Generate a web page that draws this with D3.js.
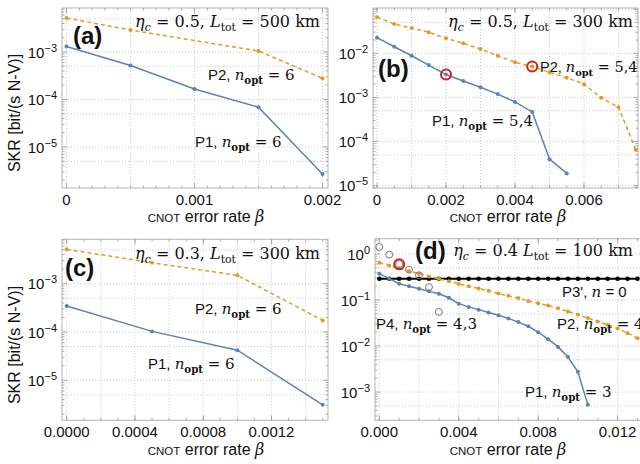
<!DOCTYPE html>
<html><head><meta charset="utf-8">
<script src="https://cdn.jsdelivr.net/npm/d3@7"></script>
<style>body{margin:0;background:#fff}</style>
</head><body>
<svg id="c" width="640" height="464" xmlns="http://www.w3.org/2000/svg"></svg>
<script>
// ---------- data ----------
// panel (a)
const A_beta1 = [0, 0.0005, 0.001, 0.0015, 0.002];
const A_P1 = [1.3e-3, 5.2e-4, 1.66e-4, 6.9e-5, 2.7e-6];
const A_beta2 = [0, 0.0005, 0.0015, 0.002];
const A_P2 = [5.2e-3, 2.9e-3, 1.05e-3, 2.8e-4];
const A_xticks = [0, 0.001, 0.002];
const A_xlabels = ["0", "0.001", "0.002"];
const A_yexp = [-3, -4, -5];
// panel (b)
const B_beta1 = [0, 0.0005, 0.001, 0.0015, 0.002, 0.0025, 0.003, 0.0035, 0.004, 0.0045, 0.005, 0.0055];
const B_P1 = [2.26e-2, 1.41e-2, 8.8e-3, 5.4e-3, 3.3e-3, 2.35e-3, 1.7e-3, 1.19e-3, 7.9e-4, 4.7e-4, 4.0e-5, 1.9e-5];
const B_beta2 = [0, 0.0005, 0.001, 0.0015, 0.002, 0.0025, 0.003, 0.0035, 0.004, 0.0045, 0.005, 0.0055, 0.006, 0.0065, 0.007, 0.0075];
const B_P2 = [6.55e-2, 4.6e-2, 3.75e-2, 3.0e-2, 2.19e-2, 1.69e-2, 1.25e-2, 8.8e-3, 6.25e-3, 5.0e-3, 3.7e-3, 2.8e-3, 2.0e-3, 9.8e-4, 6.0e-4, 6.5e-5];
const B_redBeta = [0.002, 0.0045];
const B_redVal = [3.3e-3, 5.0e-3];
const B_xticks = [0, 0.002, 0.004, 0.006];
const B_xlabels = ["0", "0.002", "0.004", "0.006"];
const B_yexp = [-2, -3, -4, -5];
// panel (c)
const C_beta = [0, 0.0005, 0.001, 0.0015];
const C_P1 = [3.45e-4, 1.03e-4, 4.2e-5, 3.1e-6];
const C_P2 = [5.15e-3, 2.72e-3, 1.49e-3, 1.74e-4];
const C_xticks = [0, 0.0004, 0.0008, 0.0012];
const C_xlabels = ["0.0000", "0.0004", "0.0008", "0.0012"];
const C_yexp = [-3, -4, -5];
// panel (d)
const D_beta1 = [0, 0.0005, 0.001, 0.0015, 0.002, 0.0025, 0.003, 0.0035, 0.004, 0.0045, 0.005, 0.0055, 0.006, 0.0065, 0.007, 0.0075, 0.008, 0.0085, 0.009, 0.0095, 0.01, 0.0105];
const D_P1 = [0.373, 0.291, 0.226, 0.198, 0.176, 0.154, 0.137, 0.112, 0.0832, 0.0708, 0.0617, 0.0537, 0.0468, 0.0398, 0.0331, 0.0269, 0.0200, 0.0141, 0.00955, 0.00575, 0.00275, 0.000525];
const D_beta2 = [0, 0.0005, 0.001, 0.0015, 0.002, 0.0025, 0.003, 0.0035, 0.004, 0.0045, 0.005, 0.0055, 0.006, 0.0065, 0.007, 0.0075, 0.008, 0.0085, 0.009, 0.0095, 0.01, 0.0105, 0.011, 0.0115, 0.012, 0.0125, 0.013];
const D_P2 = [0.646, 0.562, 0.490, 0.427, 0.372, 0.324, 0.288, 0.257, 0.224, 0.200, 0.178, 0.158, 0.138, 0.123, 0.110, 0.0955, 0.0851, 0.0759, 0.0661, 0.0562, 0.0479, 0.0407, 0.0339, 0.0288, 0.0240, 0.0191, 0.0148];
const D_P3 = [0.29, 0.29, 0.29, 0.29, 0.29, 0.29, 0.29, 0.29, 0.29, 0.29, 0.29, 0.29, 0.29, 0.29, 0.29, 0.29, 0.29, 0.29, 0.29, 0.29, 0.29, 0.29, 0.29, 0.29, 0.29, 0.29, 0.29];
const D_beta4 = [0, 0.0005, 0.001, 0.0015, 0.002, 0.0025, 0.003];
const D_P4 = [1.42, 0.97, 0.6, 0.457, 0.344, 0.19, 0.055];
const D_redBeta = [0.001];
const D_redVal = [0.6];
const D_xticks = [0, 0.004, 0.008, 0.012];
const D_xlabels = ["0.000", "0.004", "0.008", "0.012"];
const D_yexp = [0, -1, -2, -3];

// ---------- drawing ----------
const svg = d3.select("#c");
const BLUE = "#5e81b5", ORANGE = "#e19c24", RED = "#cc2222";
const SANS = "'Liberation Sans', Arial, sans-serif";
const SERIF = "'DejaVu Serif', serif";
const defs = svg.append("defs");

function rich(g, x, y, parts, size, anchor) {
  const t = g.append("text").attr("x", x).attr("y", y)
    .attr("font-size", size).attr("fill", "#111")
    .attr("text-anchor", anchor || "start").attr("font-family", SERIF);
  let shift = 0;
  parts.forEach(p => {
    const s = t.append("tspan").text(p.t);
    s.attr("font-family", p.sans ? SANS : SERIF);
    if (p.it) s.attr("font-style", "italic");
    if (p.b) s.attr("font-weight", "bold");
    const target = p.sub ? 4 : 0;
    if (target !== shift) { s.attr("dy", target - shift); shift = target; }
    if (p.sub) s.attr("font-size", size * 0.68);
  });
  return t;
}

function eta(e, c, l, comma) {
  return [{t: "η", it: true}, {t: "c", it: true, sub: true}, {t: " = " + e + (comma ? ", " : " ")}, {t: "L", it: true}, {t: "tot", sub: true}, {t: " = " + l + " km"}];
}
function nopt(p, v) {
  return [{t: p + ", ", sans: true}, {t: "n", it: true}, {t: "opt", sub: true, b: true}, {t: " = " + v}];
}

function panel(o) {
  const g = svg.append("g");
  const [L, T, R, B] = o.frame;
  const x = d3.scaleLinear().domain(o.xd).range(o.xr);
  const y = d3.scaleLog().domain(o.yd).range(o.yr);
  defs.append("clipPath").attr("id", "cl" + o.name).append("rect")
    .attr("x", L).attr("y", T).attr("width", R - L).attr("height", B - T);
  const inside = v => v >= T - 0.5 && v <= B + 0.5;
  const ylo = Math.floor(Math.log10(y.invert(B))), yhi = Math.ceil(Math.log10(y.invert(T)));
  const ygrid = [], yminor = [];
  for (let e = ylo; e <= yhi; e++) {
    ygrid.push(Math.pow(10, e), 5 * Math.pow(10, e));
    for (let k = 1; k <= 9; k++) yminor.push(k * Math.pow(10, e));
  }
  const gg = g.append("g").attr("stroke", "#c8c8c8").attr("stroke-width", 1).attr("stroke-dasharray", "1,2");
  ygrid.filter(v => inside(y(v))).forEach(v => {
    gg.append("line").attr("x1", L).attr("x2", R).attr("y1", y(v)).attr("y2", y(v));
  });
  o.xgrid.forEach(v => {
    gg.append("line").attr("x1", x(v)).attr("x2", x(v)).attr("y1", T).attr("y2", B);
  });
  g.append("rect").attr("x", L).attr("y", T).attr("width", R - L).attr("height", B - T)
    .attr("fill", "none").attr("stroke", "#b4b4b4").attr("stroke-width", 1);
  const tk = g.append("g").attr("stroke", "#9a9a9a").attr("stroke-width", 0.8);
  yminor.filter(v => inside(y(v))).forEach(v => {
    const len = (Math.abs(Math.log10(v) - Math.round(Math.log10(v))) < 1e-9) ? 5 : 2.5;
    tk.append("line").attr("x1", L).attr("x2", L + len).attr("y1", y(v)).attr("y2", y(v));
    tk.append("line").attr("x1", R).attr("x2", R - len).attr("y1", y(v)).attr("y2", y(v));
  });
  o.xminor.forEach(v => {
    tk.append("line").attr("x1", x(v)).attr("x2", x(v)).attr("y1", B).attr("y2", B - 2.5);
    tk.append("line").attr("x1", x(v)).attr("x2", x(v)).attr("y1", T).attr("y2", T + 2.5);
  });
  o.xticks.forEach(v => {
    tk.append("line").attr("x1", x(v)).attr("x2", x(v)).attr("y1", B).attr("y2", B - 5);
    tk.append("line").attr("x1", x(v)).attr("x2", x(v)).attr("y1", T).attr("y2", T + 5);
  });
  o.xticks.forEach((v, i) => {
    g.append("text").attr("x", x(v)).attr("y", B + 16.8).attr("text-anchor", "middle")
      .attr("font-family", SANS).attr("font-size", 15).attr("fill", "#111").text(o.xlabels[i]);
  });
  o.yexp.forEach(e => {
    const t = g.append("text").attr("x", L - 5).attr("y", y(Math.pow(10, e)) + 5.5)
      .attr("text-anchor", "end").attr("font-family", SANS).attr("font-size", 15).attr("fill", "#111");
    t.append("tspan").text("10");
    t.append("tspan").attr("dy", -6).attr("font-size", 11).text(e === 0 ? "0" : "\u2212" + (-e));
  });
  const xl = g.append("text").attr("x", o.xlab[0]).attr("y", o.xlab[1]).attr("text-anchor", "middle")
    .attr("font-family", SANS).attr("font-size", 16).attr("fill", "#111");
  xl.append("tspan").attr("font-size", 11.5).text("CNOT");
  xl.append("tspan").text(" error rate ");
  xl.append("tspan").attr("font-family", SERIF).attr("font-style", "italic").text("β");
  if (o.ylab) {
    g.append("text").attr("transform", `translate(${o.ylab[0]},${o.ylab[1]}) rotate(-90)`)
      .attr("text-anchor", "middle").attr("font-family", SANS).attr("font-size", 16).attr("fill", "#111")
      .text("SKR [bit/(s N-V)]");
  }
  const pg = g.append("g").attr("clip-path", `url(#cl${o.name})`);
  o.series.forEach(s => {
    const pts = s.xs.map((v, i) => [x(v), y(s.ys[i])]);
    if (s.line !== false) {
      pg.append("path").attr("d", d3.line()(pts)).attr("fill", "none")
        .attr("stroke", s.color).attr("stroke-width", s.w || 1.5)
        .attr("stroke-dasharray", s.dash || null);
    }
    pts.forEach(p => {
      if (s.open) {
        pg.append("circle").attr("cx", p[0]).attr("cy", p[1]).attr("r", s.r)
          .attr("fill", "none").attr("stroke", s.color).attr("stroke-width", s.sw || 1);
      } else {
        pg.append("circle").attr("cx", p[0]).attr("cy", p[1]).attr("r", s.r || 2).attr("fill", s.color);
      }
    });
  });
  o.texts.forEach(t => rich(g, t.x, t.y, t.parts, t.size || 15, t.anchor));
  g.append("text").attr("x", o.tag[0]).attr("y", o.tag[1]).attr("font-family", SANS)
    .attr("font-weight", "bold").attr("font-size", 24).attr("fill", "#111").text(o.tag[2]);
}

const range = (a, b, s) => d3.range(Math.round(a / s), Math.round(b / s) + 1).map(k => k * s);

panel({
  name: "a", frame: [62, 8, 328, 188], xd: [0, 0.002], xr: [66.5, 322.5],
  yd: [1e-3, 1e-5], yr: [52, 147],
  xgrid: range(0, 0.002, 0.0005), xminor: range(0, 0.002, 0.0001),
  xticks: A_xticks, xlabels: A_xlabels, yexp: A_yexp,
  xlab: [206, 222], ylab: [20, 113],
  series: [
    {xs: A_beta2, ys: A_P2, color: ORANGE, dash: "4,3"},
    {xs: A_beta1, ys: A_P1, color: BLUE}
  ],
  texts: [
    {x: 320, y: 27, parts: eta("0.5", "c", "500", true), anchor: "end", size: 16},
    {x: 208, y: 80, parts: nopt("P2", "6")},
    {x: 195, y: 147, parts: nopt("P1", "6")}
  ],
  tag: [73, 44, "(a)"]
});

panel({
  name: "b", frame: [373, 8, 638, 188], xd: [0, 0.0075], xr: [377, 635.75],
  yd: [1e-2, 1e-5], yr: [53.3, 185.7],
  xgrid: range(0, 0.007, 0.001), xminor: range(0, 0.0075, 0.0005),
  xticks: B_xticks, xlabels: B_xlabels, yexp: B_yexp,
  xlab: [508, 222], ylab: null,
  series: [
    {xs: B_beta2, ys: B_P2, color: ORANGE, dash: "4,3"},
    {xs: B_beta1, ys: B_P1, color: BLUE},
    {xs: B_redBeta, ys: B_redVal, color: RED, open: true, r: 5, sw: 2, line: false}
  ],
  texts: [
    {x: 633, y: 27, parts: eta("0.5", "c", "300", true), anchor: "end", size: 16},
    {x: 540, y: 72, parts: nopt("P2", "5,4"), size: 14.5},
    {x: 432, y: 126, parts: nopt("P1", "5,4")}
  ],
  tag: [378, 77, "(b)"]
});

panel({
  name: "c", frame: [62, 239.3, 328, 420.3], xd: [0, 0.0015], xr: [66.7, 322.7],
  yd: [1e-3, 1e-5], yr: [283.7, 380.3],
  xgrid: range(0, 0.0014, 0.0002), xminor: range(0, 0.0015, 0.0001),
  xticks: C_xticks, xlabels: C_xlabels, yexp: C_yexp,
  xlab: [206, 454.5], ylab: [20, 345],
  series: [
    {xs: C_beta, ys: C_P2, color: ORANGE, dash: "4,3"},
    {xs: C_beta, ys: C_P1, color: BLUE}
  ],
  texts: [
    {x: 320, y: 259, parts: eta("0.3", "c", "300", true), anchor: "end", size: 16},
    {x: 195, y: 314, parts: nopt("P2", "6")},
    {x: 148, y: 369, parts: nopt("P1", "6")}
  ],
  tag: [65, 275.5, "(c)"]
});

panel({
  name: "d", frame: [375, 238.7, 650, 420.3], xd: [0, 0.013], xr: [379.3, 637.5],
  yd: [1, 1e-3], yr: [254, 392],
  xgrid: range(0, 0.014, 0.002), xminor: range(0, 0.014, 0.001),
  xticks: D_xticks, xlabels: D_xlabels, yexp: D_yexp,
  xlab: [508, 454.5], ylab: null,
  series: [
    {xs: D_beta2, ys: D_P3, color: "#000", w: 2, r: 2.3},
    {xs: D_beta2, ys: D_P2, color: ORANGE, dash: "4,3"},
    {xs: D_beta1, ys: D_P1, color: BLUE},
    {xs: D_beta4, ys: D_P4, color: "#777", open: true, r: 3.5, sw: 1, line: false},
    {xs: D_redBeta, ys: D_redVal, color: RED, open: true, r: 5, sw: 2, line: false}
  ],
  texts: [
    {x: 633, y: 256, parts: eta("0.4", "c", "100", false), anchor: "end", size: 16},
    {x: 562, y: 297, parts: [{t: "P3', ", sans: true}, {t: "n", it: true}, {t: " = 0", sans: true}]},
    {x: 557, y: 329, parts: nopt("P2", "4")},
    {x: 376, y: 329, parts: nopt("P4", "4,3")},
    {x: 525, y: 397, parts: nopt("P1", "3")}
  ],
  tag: [415, 259, "(d)"]
});
</script>
</body></html>
